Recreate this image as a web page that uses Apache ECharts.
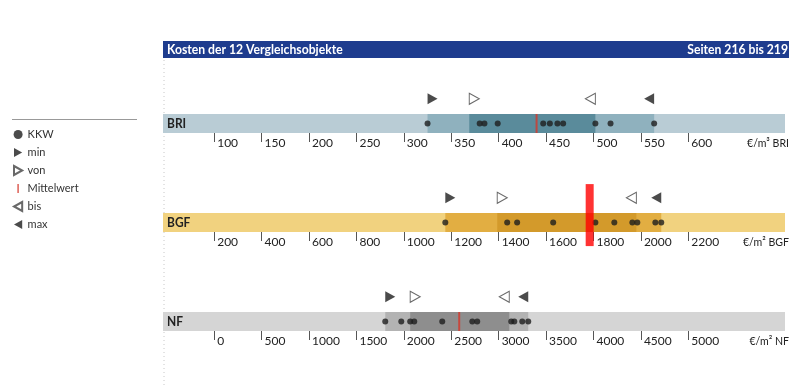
<!DOCTYPE html>
<html>
<head>
<meta charset="utf-8">
<script src="https://cdn.jsdelivr.net/npm/echarts@6/dist/echarts.min.js"></script>
<style>
  html, body { margin: 0; padding: 0; background: #fff; }
  #chart { width: 789px; height: 385px; }
</style>
</head>
<body>
<div id="chart"></div>
<script>
// values
const briKKW = [325, 380, 385, 399, 447, 454, 462, 468, 502, 518, 564];
const briRange = [325, 369, 502, 564]; // min, von, bis, max
const briMean = 440;
const briTicks = [100, 150, 200, 250, 300, 350, 400, 450, 500, 550, 600];

const bgfKKW = [1175, 1436, 1478, 1630, 1808, 1888, 1964, 1985, 2061, 2086];
const bgfRange = [1175, 1394, 1981, 2086];
const bgfMean = 1784;
const bgfTicks = [200, 400, 600, 800, 1000, 1200, 1400, 1600, 1800, 2000, 2200];

const nfKKW = [1804, 1973, 2067, 2110, 2405, 2722, 2774, 3133, 3165, 3249, 3312];
const nfRange = [1804, 2067, 3112, 3312];
const nfMean = 2584;
const nfTicks = [0, 500, 1000, 1500, 2000, 2500, 3000, 3500, 4000, 4500, 5000];

const FONT = 'Lato, Roboto, sans-serif';
const RIGHT_TRI = 'path://M0,0L10,5.5L0,11Z';
const LEFT_TRI = 'path://M10,0L0,5.5L10,11Z';

const rows = [
  { label: 'BRI', unit: '€/m³ BRI', kkw: briKKW, range: briRange, mean: briMean, ticks: briTicks,
    axis: [46, 702], top: 114, colors: ['#b9ccd5', '#8fb1be', '#5a8b9b'],
    meanY: 0.5, meanSize: [2, 19], meanColor: '#d4372b' },
  { label: 'BGF', unit: '€/m² BGF', kkw: bgfKKW, range: bgfRange, mean: bgfMean, ticks: bgfTicks,
    axis: [-16, 2608], top: 213, colors: ['#f1d27f', '#e2ae42', '#d39a2b'],
    meanY: 0.89, meanSize: [8, 62], meanColor: '#ff0000' },
  { label: 'NF', unit: '€/m² NF', kkw: nfKKW, range: nfRange, mean: nfMean, ticks: nfTicks,
    axis: [-540, 6020], top: 312, colors: ['#d5d5d5', '#b3b3b3', '#8e8e8e'],
    meanY: 0.5, meanSize: [2, 19], meanColor: '#d4372b' }
];

const grid = [], xAxis = [], yAxis = [], series = [], graphic = [];

rows.forEach((r, i) => {
  grid.push({ left: 163, right: 4, top: r.top - 38, height: 76 });
  xAxis.push({
    type: 'value', gridIndex: i, min: r.axis[0], max: r.axis[1], offset: -15,
    axisLine: { show: false },
    splitLine: { show: false },
    axisTick: { show: true, customValues: r.ticks, length: 9, lineStyle: { color: '#555', width: 1 } },
    axisLabel: {
      customValues: r.ticks, align: 'left', margin: 0, padding: [0, 0, 0, 3],
      formatter: v => String(v),
      color: '#222', fontSize: 12, fontFamily: FONT
    }
  });
  yAxis.push({ type: 'value', gridIndex: i, min: -1, max: 3, show: false });

  const dark = '#1e1e1e';
  series.push({
    name: 'KKW', type: 'scatter', xAxisIndex: i, yAxisIndex: i, z: 3,
    data: r.kkw.map(v => [v, 0.5]),
    symbolSize: 6, itemStyle: { color: dark },
    markArea: {
      silent: true, label: { show: false },
      data: [
        [{ xAxis: r.axis[0], yAxis: 0, itemStyle: { color: r.colors[0] } }, { xAxis: r.axis[1], yAxis: 1 }],
        [{ xAxis: r.range[0], yAxis: 0, itemStyle: { color: r.colors[1] } }, { xAxis: r.range[3], yAxis: 1 }],
        [{ xAxis: r.range[1], yAxis: 0, itemStyle: { color: r.colors[2] } }, { xAxis: r.range[2], yAxis: 1 }]
      ]
    }
  });
  series.push({
    name: 'min', type: 'scatter', xAxisIndex: i, yAxisIndex: i,
    data: [[r.range[0], 1.8]], symbol: RIGHT_TRI, symbolSize: [10, 11], symbolOffset: [5, 0],
    itemStyle: { color: dark }
  });
  series.push({
    name: 'von', type: 'scatter', xAxisIndex: i, yAxisIndex: i,
    data: [[r.range[1], 1.8]], symbol: RIGHT_TRI, symbolSize: [10, 11], symbolOffset: [5, 0],
    itemStyle: { color: '#fff', borderColor: '#444', borderWidth: 1 }
  });
  series.push({
    name: 'Mittelwert', type: 'scatter', xAxisIndex: i, yAxisIndex: i, z: 5,
    data: [[r.mean, r.meanY]], symbol: 'rect', symbolSize: r.meanSize,
    itemStyle: { color: r.meanColor }
  });
  series.push({
    name: 'bis', type: 'scatter', xAxisIndex: i, yAxisIndex: i,
    data: [[r.range[2], 1.8]], symbol: LEFT_TRI, symbolSize: [10, 11], symbolOffset: [-5, 0],
    itemStyle: { color: '#fff', borderColor: '#444', borderWidth: 1 }
  });
  series.push({
    name: 'max', type: 'scatter', xAxisIndex: i, yAxisIndex: i,
    data: [[r.range[3], 1.8]], symbol: LEFT_TRI, symbolSize: [10, 11], symbolOffset: [-5, 0],
    itemStyle: { color: dark }
  });

  graphic.push({
    type: 'text', x: 167, y: r.top + 10, z: 10, scaleX: 0.92,
    style: { text: r.label, fill: '#222', font: 'bold 13px ' + FONT, textVerticalAlign: 'middle' }
  });
  graphic.push({
    type: 'text', x: 789, y: r.top + 29, z: 10, scaleX: 0.88,
    style: { text: r.unit, fill: '#222', font: '12px ' + FONT, textAlign: 'right', textVerticalAlign: 'middle' }
  });
});

// header bar and page furniture
graphic.push(
  { type: 'rect', shape: { x: 163, y: 41, width: 626, height: 17 }, style: { fill: '#1e3c8e' } },
  { type: 'text', x: 167, y: 49.5, scaleX: 0.87, style: { text: 'Kosten der 12 Vergleichsobjekte', fill: '#fff',
      font: 'bold 14px ' + FONT, textVerticalAlign: 'middle' } },
  { type: 'text', x: 788, y: 49.5, scaleX: 0.87, style: { text: 'Seiten 216 bis 219', fill: '#fff',
      font: 'bold 14px ' + FONT, textAlign: 'right', textVerticalAlign: 'middle' } },
  { type: 'line', shape: { x1: 164, y1: 60, x2: 164, y2: 385 },
    style: { stroke: '#c8c8c8', lineWidth: 1, lineDash: [1, 3] } },
  { type: 'line', shape: { x1: 12, y1: 119.5, x2: 137, y2: 119.5 },
    style: { stroke: '#999', lineWidth: 1 } }
);

const chart = echarts.init(document.getElementById('chart'));
chart.setOption({
  animation: false,
  backgroundColor: '#fff',
  grid, xAxis, yAxis, series, graphic,
  legend: {
    orient: 'vertical', left: 13, top: 129, padding: 0,
    itemWidth: 9, itemHeight: 9, itemGap: 7,
    selectedMode: false,
    data: [
      { name: 'KKW', icon: 'circle' },
      { name: 'min' },
      { name: 'von' },
      { name: 'Mittelwert', icon: 'path://M0,0h2v12h-2z' },
      { name: 'bis' },
      { name: 'max' }
    ],
    textStyle: { color: '#333', fontSize: 11, fontFamily: FONT }
  }
});
window.addEventListener('resize', chart.resize);
</script>
</body>
</html>
